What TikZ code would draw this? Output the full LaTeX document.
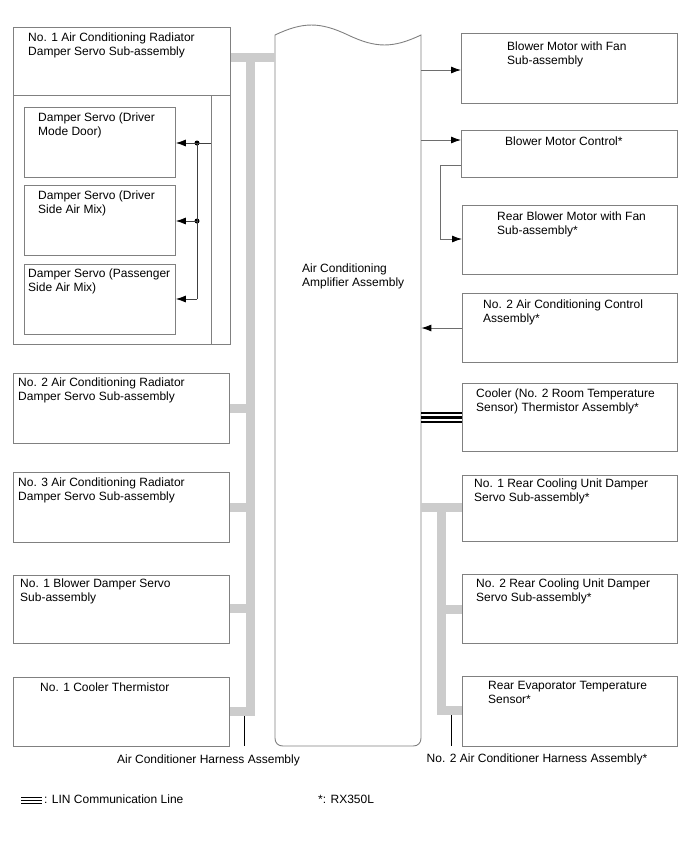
\documentclass[tikz,border=0pt]{standalone}
\usepackage{fontspec}
\setmainfont{Liberation Sans}
\usetikzlibrary{arrows.meta}
\definecolor{boxgray}{RGB}{128,128,128}
\definecolor{busgray}{RGB}{204,204,204}
\definecolor{linegray}{RGB}{110,110,110}
\newcommand\mlines[1]{\begin{tabular}[t]{@{}l@{}}#1\end{tabular}}
\newcommand\bx[5]{\node[box, minimum width={(#4-#2)*1pt}, minimum height={(#5-#3)*1pt}] (#1) at (#2,#3) {};}
\tikzset{
  box/.style={draw=boxgray, line width=0.9pt, inner sep=0pt, anchor=north west},
  txt/.style={anchor=base west, inner sep=0pt, font=\fontsize{12}{14.5}\selectfont},
  ctxt/.style={anchor=base, inner sep=0pt, font=\fontsize{12}{14.5}\selectfont},
  bus/.style={draw=busgray, line width=9pt},
  conn/.style={draw=linegray, line width=0.9pt},
  arr/.style={conn, -{Latex[length=10pt,width=7pt,color=black]}},
  darr/.style={draw=black!75, line width=0.8pt, -{Latex[length=10pt,width=7pt,color=black]}},
  tick/.style={draw=black, line width=0.8pt},
  dot/.style={circle, fill=black, inner sep=0pt, minimum size=5pt},
}
\begin{document}
\begin{tikzpicture}[x=1pt,y=-1pt]
\useasboundingbox (0,0) rectangle (688,852);
% ---------- left boxes ----------
\bx{r1}{13}{27}{230}{344}
\coordinate (r1div) at (13,95);
\draw[draw=boxgray, line width=0.9pt] (r1div) -- (230,95);
\draw[draw=boxgray, line width=0.9pt] (211,95) -- (211,344);
\bx{d1}{24}{107}{175}{177}
\bx{d2}{24}{185}{175}{255}
\bx{d3}{24}{264}{175}{334}
\bx{r2}{13}{373}{229}{443}
\bx{r3}{13}{472}{229}{542}
\bx{bd}{13}{575}{229}{643}
\bx{ct}{13}{677}{229}{746}
% ---------- right boxes ----------
\bx{bm}{461}{33}{677}{103}
\bx{bmc}{461}{130}{677}{177}
\bx{rbm}{462}{205}{677}{274}
\bx{ac2}{462}{293}{677}{362}
\bx{cool}{462}{383}{677}{451}
\bx{rc1}{462}{475}{677}{541}
\bx{rc2}{462}{574}{677}{643}
\bx{rev}{462}{676}{677}{746}
% ---------- amplifier ----------
\node[inner sep=0pt, minimum width=146pt, minimum height=711pt, anchor=north west] (amp) at (275,35) {};
\draw[draw=boxgray, line width=0.9pt] (275,35) .. controls (303,21.7) and (320,21.7) .. (348,35)
  .. controls (376,48.3) and (393,48.3) .. (421,35) -- (421,738)
  .. controls (421,743) and (418,746) .. (413,746) -- (283,746)
  .. controls (278,746) and (275,743) .. (275,738) -- cycle;
\node[txt] (ampt) at (302,272) {\mlines{Air Conditioning\\Amplifier Assembly}};
% ---------- left bus ----------
\draw[bus] (r1.east |- 0,57.5) -- (amp.west |- 0,57.5);
\draw[bus, line join=miter] (250.5,53) -- (250.5,711.5) -- (ct.east |- 0,711.5);
\draw[bus] (r2.east |- 0,408) -- (250.5,408);
\draw[bus] (r3.east |- 0,507) -- (250.5,507);
\draw[bus] (bd.east |- 0,608) -- (250.5,608);
\coordinate (hl) at (244,746);
\draw[tick] (244,716) -- (hl);
% ---------- right bus ----------
\draw[bus] (amp.east |- 0,507.5) -- (rc1.west |- 0,507.5);
\draw[bus, line join=miter] (441,503) -- (441,710.5) -- (rev.west |- 0,710.5);
\draw[bus] (441,609) -- (rc2.west |- 0,609);
\coordinate (hr) at (451,746);
\draw[tick] (451,715) -- (hr);
% ---------- damper servo connectors ----------
\coordinate (ds) at (211,143);
\node[dot] (p1) at (197,143) {};
\node[dot] (p2) at (197,221) {};
\coordinate (p3) at (197,299);
\draw[darr] (ds) -- (d1.east |- ds);
\draw[draw=black!75, line width=0.8pt] (p1.center) -- (p3);
\draw[darr] (p2.center) -- (d2.east |- p2);
\draw[darr] (p3) -- (d3.east |- p3);
% ---------- right connectors ----------
\draw[arr] (amp.east |- 0,70) -- (bm.west |- 0,70);
\draw[arr] (amp.east |- 0,140) -- (bmc.west |- 0,140);
\draw[arr] (bmc.west |- 0,165) -- (440,165) -- (440,239) -- (rbm.west |- 0,239);
\draw[arr] (ac2.west |- 0,328) -- (amp.east |- 0,328);
\draw[draw=black, line width=1.2pt] (amp.east |- 0,413) -- (cool.west |- 0,413);
\draw[draw=black, line width=2.6pt] (amp.east |- 0,417.7) -- (cool.west |- 0,417.7);
\draw[draw=black, line width=1.2pt] (amp.east |- 0,422) -- (cool.west |- 0,422);
% ---------- texts ----------
\node[txt] (t1) at (28,41) {\mlines{No. 1 Air Conditioning Radiator\\Damper Servo Sub-assembly}};
\node[txt] (t2) at (38,121) {\mlines{Damper Servo (Driver\\Mode Door)}};
\node[txt] (t3) at (38,199) {\mlines{Damper Servo (Driver\\Side Air Mix)}};
\node[txt] (t4) at (28,277) {\mlines{Damper Servo (Passenger\\Side Air Mix)}};
\node[txt] (t5) at (18,386) {\mlines{No. 2 Air Conditioning Radiator\\Damper Servo Sub-assembly}};
\node[txt] (t6) at (18,486) {\mlines{No. 3 Air Conditioning Radiator\\Damper Servo Sub-assembly}};
\node[txt] (t7) at (20,587) {\mlines{No. 1 Blower Damper Servo\\Sub-assembly}};
\node[txt] (t8) at (40,691) {No. 1 Cooler Thermistor};
\node[txt] (t9) at (507,50) {\mlines{Blower Motor with Fan\\Sub-assembly}};
\node[txt] (t10) at (505,145) {Blower Motor Control*};
\node[txt] (t11) at (497,220) {\mlines{Rear Blower Motor with Fan\\Sub-assembly*}};
\node[txt] (t12) at (483,308) {\mlines{No. 2 Air Conditioning Control\\Assembly*}};
\node[txt] (t13) at (476,397) {\mlines{Cooler (No. 2 Room Temperature\\Sensor) Thermistor Assembly*}};
\node[txt] (t14) at (474,487) {\mlines{No. 1 Rear Cooling Unit Damper\\Servo Sub-assembly*}};
\node[txt] (t15) at (476,587) {\mlines{No. 2 Rear Cooling Unit Damper\\Servo Sub-assembly*}};
\node[txt] (t16) at (488,689) {\mlines{Rear Evaporator Temperature\\Sensor*}};
\node[ctxt] (hlt) at (208.5,763) {Air Conditioner Harness Assembly};
\node[ctxt] (hrt) at (537,762) {No. 2 Air Conditioner Harness Assembly*};
% ---------- legend ----------
\coordinate (lg1) at (21,797.5);
\coordinate (lg2) at (42,797.5);
\draw[draw=black, line width=1.1pt] (lg1) -- (lg2);
\draw[draw=black, line width=1.6pt] (21,800.5) -- (42,800.5);
\draw[draw=black, line width=1.1pt] (21,803.5) -- (42,803.5);
\node[txt] (lgt) at (44,803) {: LIN Communication Line};
\node[txt] (rx) at (318,803) {*: RX350L};
\end{tikzpicture}
\end{document}
